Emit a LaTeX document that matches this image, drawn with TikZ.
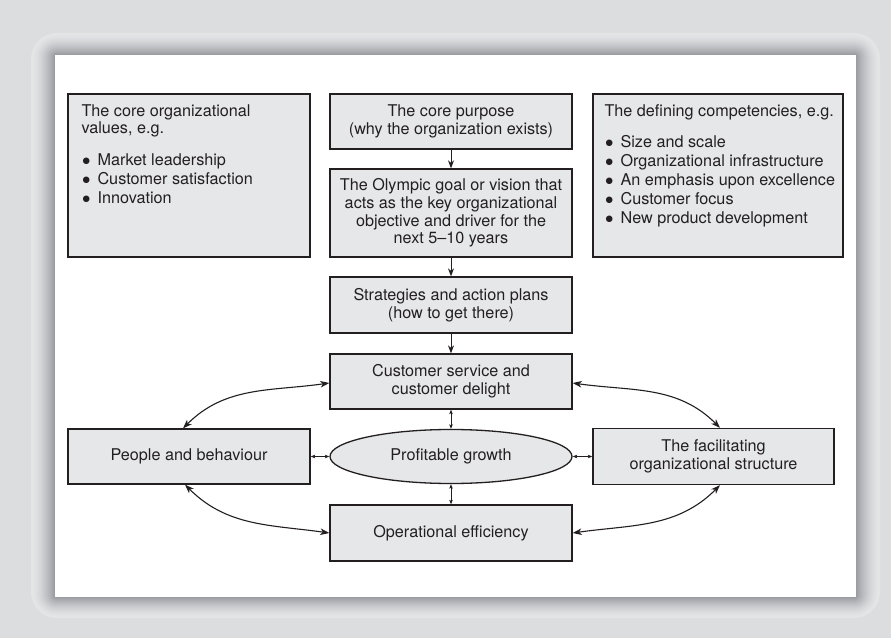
\documentclass[tikz,border=0pt]{standalone}
\usepackage{fontspec}
\setmainfont{TeX Gyre Heros}
\newfontfamily\symfont{DejaVu Sans}
\usetikzlibrary{arrows.meta,shapes.geometric}
\definecolor{pagebg}{HTML}{DCDDDF}
\definecolor{framelight}{HTML}{E4E5E7}
\definecolor{framedark}{HTML}{96989D}
\definecolor{boxfill}{HTML}{E6E7E9}
\definecolor{ink}{HTML}{231F20}
\newcommand{\dotitem}{\hspace*{1pt}\makebox[15pt][l]{\raisebox{1.6pt}{\symfont\fontsize{8.5}{9}\selectfont ●}}}

\begin{document}
\begin{tikzpicture}[x=1pt,y=1pt,
  every node/.style={font=\fontsize{16.2}{17.6}\selectfont, text=ink},
  box/.style={draw=ink, line width=1.3pt, fill=boxfill, minimum width=242pt,
    minimum height=55pt, inner sep=0pt, align=center},
  link/.style={draw=ink, line width=1pt, -{Stealth[length=8pt,width=6pt,inset=2.5pt]}},
  both/.style={draw=ink, line width=1.1pt,
    {Stealth[length=9pt,width=6.5pt,inset=2.5pt]}-{Stealth[length=9pt,width=6.5pt,inset=2.5pt]}},
  tiny/.style={draw=ink, line width=0.8pt,
    {Stealth[length=4.5pt,width=3.5pt,inset=1pt]}-{Stealth[length=4.5pt,width=3.5pt,inset=1pt]}},
  listtext/.style={anchor=north west, inner sep=0pt, align=left}
]
\useasboundingbox (0,0) rectangle (891,638);
\fill[pagebg] (0,0) rectangle (891,638);

% bevelled frame: nested rounded rectangles, darkening towards the panel
\foreach \i in {0,...,23}{
  \pgfmathsetmacro\t{\i/24}
  \pgfmathtruncatemacro\p{100*\t^1.6}
  \pgfmathsetmacro\r{25*(1-\t)+1}
  \colorlet{bandcol}{framedark!\p!framelight}
  \fill[bandcol, rounded corners=\r pt]
    ({31+24*\t},{20+21*\t}) rectangle ({880-24*\t},{605-22*\t});
}
\fill[white] (55,41) rectangle (856,583);

% top row
\node[box, minimum height=163pt] (values) at (189,462.5) {};
\node[listtext] (valtext) at ([shift={(14pt,-11pt)}]values.north west)
  {The core organizational\\
   values, e.g.\\[14pt]
   \dotitem Market leadership\\[1.4pt]
   \dotitem Customer satisfaction\\[1.4pt]
   \dotitem Innovation};

\node[box] (purpose) at (451,516.5) {The core purpose\\(why the organization exists)};

\node[box, minimum width=250pt, minimum height=163pt] (skills) at (718,462.5) {};
\node[listtext] (skilltext) at ([shift={(12pt,-11pt)}]skills.north west)
  {The defining competencies, e.g.\\[13pt]
   \dotitem Size and scale\\[1.4pt]
   \dotitem Organizational infrastructure\\[1.4pt]
   \dotitem An emphasis upon excellence\\[1.4pt]
   \dotitem Customer focus\\[1.4pt]
   \dotitem New product development};

% central column
\node[box, minimum height=88pt] (olympic) at (451,425)
  {The Olympic goal or vision that\\acts as the key organizational\\objective and driver for the\\next 5--10 years};
\node[box, minimum height=56pt] (plans) at (451,333) {Strategies and action plans\\(how to get there)};
\node[box] (service) at (451,256.5) {Customer service and\\customer delight};
\node[box, ellipse, minimum height=54pt] (growth) at (451,181.5) {Profitable growth};
\node[box, minimum height=56pt] (ops) at (451,105) {Operational efficiency};

% side boxes
\node[box] (people) at (189,181.5) {People and behaviour};
\node[box, minimum width=241pt, minimum height=56pt] (structure) at (713.5,181.5)
  {The facilitating\\organizational structure};

% connectors
\draw[link] (purpose) -- (olympic);
\draw[link] (olympic) -- (plans);
\draw[link] (plans) -- (service);
\draw[tiny] (service) -- (growth);
\draw[tiny] (people) -- (growth);
\draw[tiny] (growth) -- (structure);
\draw[tiny] (growth) -- (ops);

\draw[both] ([xshift=-6pt]people.north) to[out=45,in=188] ([yshift=-1.5pt]service.west);
\draw[both] ([yshift=-1.5pt]service.east) to[out=-8,in=135] ([xshift=6.5pt]structure.north);
\draw[both] ([xshift=-4pt]people.south) to[out=-45,in=172] (ops.west);
\draw[both] (ops.east) to[out=8,in=-135] ([xshift=6.5pt]structure.south);
\end{tikzpicture}
\end{document}
